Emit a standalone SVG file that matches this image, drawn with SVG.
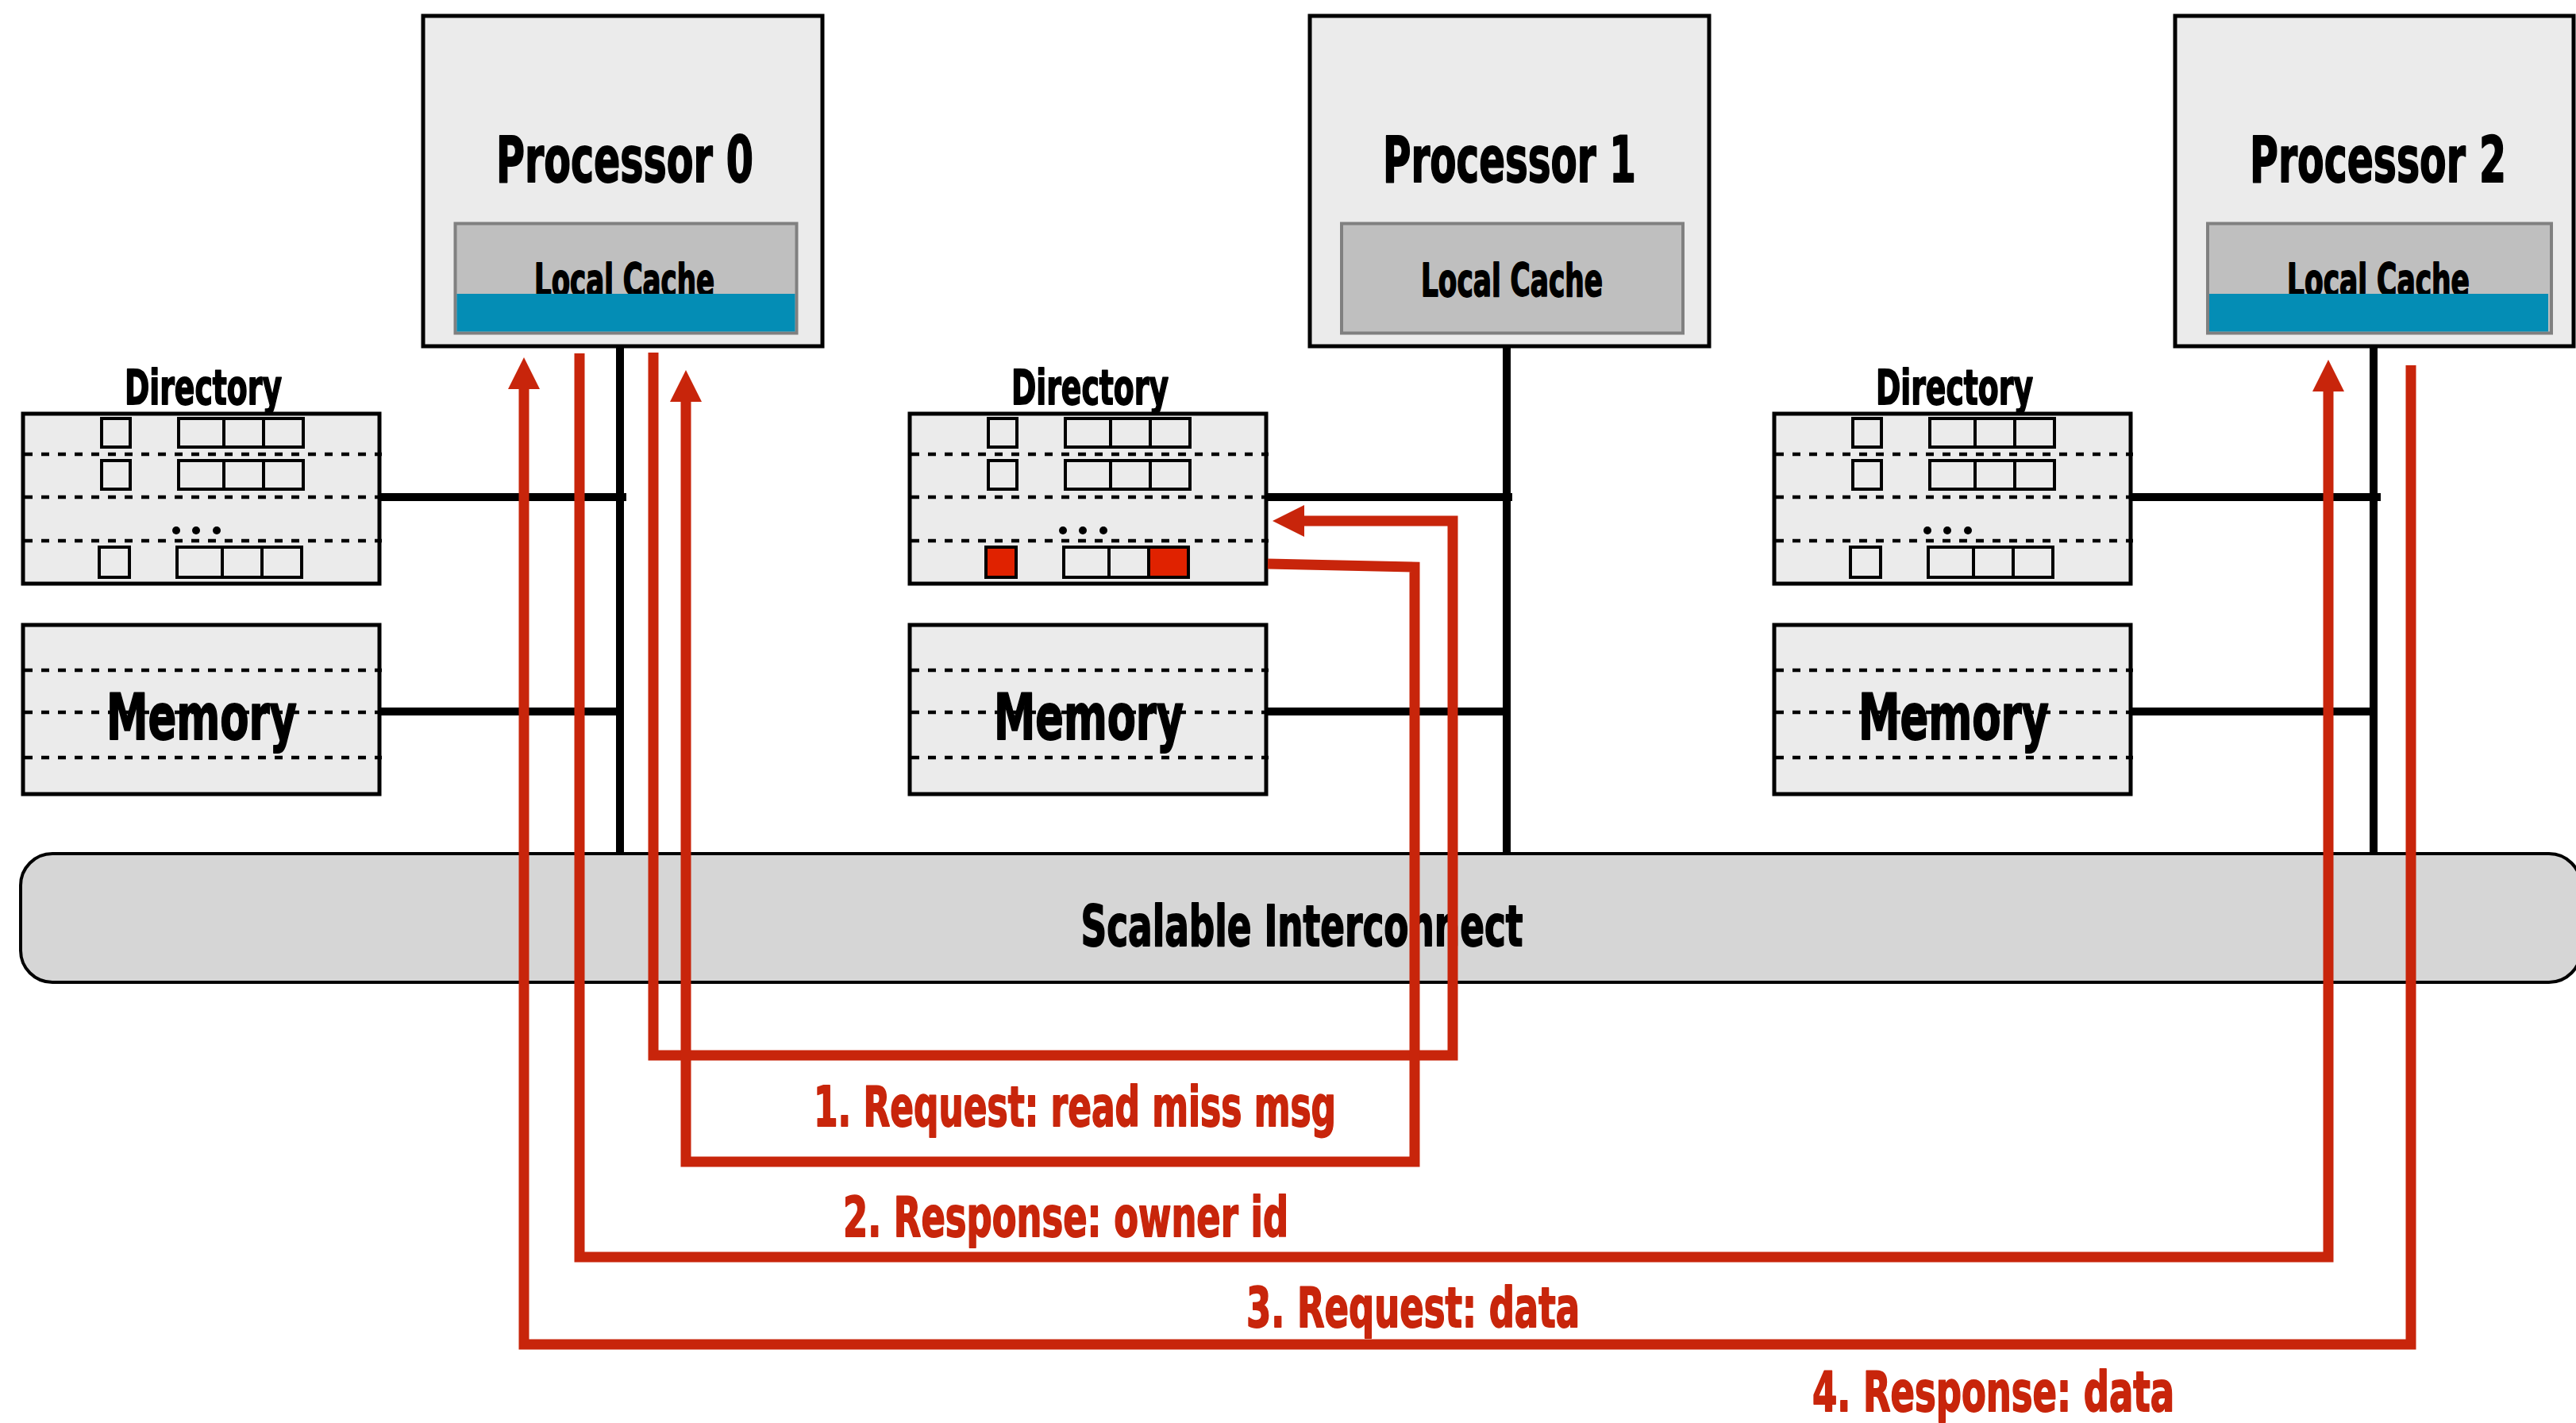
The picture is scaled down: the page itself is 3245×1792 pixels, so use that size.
<svg xmlns="http://www.w3.org/2000/svg" width="3245" height="1792" viewBox="0 0 3245 1792">
<style>
.box{fill:#ebebeb;stroke:#000;stroke-width:5}
.cache{fill:#bfbfbf;stroke:#808080;stroke-width:4}
.blue{fill:#048db5}
.t{font-family:"Liberation Sans Narrow","DejaVu Sans Condensed","Liberation Sans",sans-serif;font-weight:bold;fill:#000;stroke:#000;stroke-width:1.8;stroke-linejoin:round}
.dash{stroke:#000;stroke-width:4.5;stroke-dasharray:10 11;fill:none}
.cell{fill:none;stroke:#000;stroke-width:4}
.red{fill:#e02200;stroke:#000;stroke-width:4}
.wire{stroke:#000;stroke-width:10;fill:none}
.msg{stroke:#c8250b;stroke-width:13;fill:none;marker-end:url(#ah)}
.lbl{fill:#c8250b;stroke:#c8250b}
</style>
<defs>
<marker id="ah" markerUnits="userSpaceOnUse" markerWidth="40" markerHeight="40" viewBox="0 0 40 40" refX="0" refY="20" orient="auto">
<path d="M0,0 L40,20 L0,40 z" fill="#c8250b"/>
</marker>
</defs>
<rect width="3245" height="1792" fill="#fff"/>

<g id="bus">
<rect x="26" y="1075" width="3225" height="162" rx="40" ry="40" fill="#d6d6d6" stroke="#000" stroke-width="4"/>
<text class="t" x="1640" y="1191" font-size="71" text-anchor="middle" textLength="557" lengthAdjust="spacingAndGlyphs">Scalable Interconnect</text>
</g>

<g id="connectors">
<line class="wire" x1="781" y1="437" x2="781" y2="1075"/>
<line class="wire" x1="478" y1="626" x2="789" y2="626"/>
<line class="wire" x1="478" y1="896" x2="781" y2="896"/>
<line class="wire" x1="1898" y1="437" x2="1898" y2="1075"/>
<line class="wire" x1="1595" y1="626" x2="1905" y2="626"/>
<line class="wire" x1="1595" y1="896" x2="1898" y2="896"/>
<line class="wire" x1="2990" y1="437" x2="2990" y2="1075"/>
<line class="wire" x1="2685" y1="626" x2="2999" y2="626"/>
<line class="wire" x1="2685" y1="896" x2="2990" y2="896"/>
</g>

<g id="proc0">
<rect class="box" x="533" y="20" width="503" height="416"/>
<text class="t" x="787" y="229" font-size="80" text-anchor="middle" textLength="324" lengthAdjust="spacingAndGlyphs">Processor 0</text>
<rect class="cache" x="573.5" y="281.5" width="430" height="138"/>
<text class="t" x="786.5" y="373" font-size="57" text-anchor="middle" textLength="227" lengthAdjust="spacingAndGlyphs">Local Cache</text>
<rect class="blue" x="575.5" y="370" width="426" height="47.5"/>
</g>

<g id="proc1">
<rect class="box" x="1650" y="20" width="503" height="416"/>
<text class="t" x="1901.5" y="229" font-size="80" text-anchor="middle" textLength="319" lengthAdjust="spacingAndGlyphs">Processor 1</text>
<rect class="cache" x="1690" y="281.5" width="430" height="138"/>
<text class="t" x="1904.5" y="373" font-size="57" text-anchor="middle" textLength="229" lengthAdjust="spacingAndGlyphs">Local Cache</text>
</g>

<g id="proc2">
<rect class="box" x="2740" y="20" width="502" height="416"/>
<text class="t" transform="translate(2995.5,229) scale(0.68,1)" x="0" y="0" font-size="80" text-anchor="middle">Processor 2</text>
<rect class="cache" x="2781" y="281.5" width="433" height="138"/>
<text class="t" x="2996" y="373" font-size="57" text-anchor="middle" textLength="230" lengthAdjust="spacingAndGlyphs">Local Cache</text>
<rect class="blue" x="2783" y="370" width="427" height="47.5"/>
</g>

<g id="dir0">
<text class="t" x="256" y="509" font-size="61" text-anchor="middle" textLength="198" lengthAdjust="spacingAndGlyphs">Directory</text>
<rect class="box" x="29" y="521" width="449" height="214" stroke-width="4.5"/>
<line class="dash" x1="31" y1="572" x2="481" y2="572"/>
<line class="dash" x1="31" y1="626" x2="481" y2="626"/>
<line class="dash" x1="31" y1="681" x2="481" y2="681"/>
<rect class="cell" x="128" y="527" width="36" height="36"/>
<rect class="cell" x="225" y="527" width="157" height="36"/>
<path class="cell" d="M282,527V563M332,527V563"/>
<rect class="cell" x="128" y="580" width="36" height="36"/>
<rect class="cell" x="225" y="580" width="157" height="36"/>
<path class="cell" d="M282,580V616M332,580V616"/>
<circle cx="222" cy="668" r="5"/><circle cx="247" cy="668" r="5"/><circle cx="273" cy="668" r="5"/>
<rect class="cell" x="125" y="689" width="38" height="38"/>
<rect class="cell" x="223" y="689" width="157" height="38"/>
<path class="cell" d="M280,689V727M330,689V727"/>
</g>

<g id="dir1" transform="translate(1117,0)">
<text class="t" x="256" y="509" font-size="61" text-anchor="middle" textLength="198" lengthAdjust="spacingAndGlyphs">Directory</text>
<rect class="box" x="29" y="521" width="449" height="214" stroke-width="4.5"/>
<line class="dash" x1="31" y1="572" x2="481" y2="572"/>
<line class="dash" x1="31" y1="626" x2="481" y2="626"/>
<line class="dash" x1="31" y1="681" x2="481" y2="681"/>
<rect class="cell" x="128" y="527" width="36" height="36"/>
<rect class="cell" x="225" y="527" width="157" height="36"/>
<path class="cell" d="M282,527V563M332,527V563"/>
<rect class="cell" x="128" y="580" width="36" height="36"/>
<rect class="cell" x="225" y="580" width="157" height="36"/>
<path class="cell" d="M282,580V616M332,580V616"/>
<circle cx="222" cy="668" r="5"/><circle cx="247" cy="668" r="5"/><circle cx="273" cy="668" r="5"/>
<rect class="red" x="125" y="689" width="38" height="38"/>
<rect class="red" x="330" y="689" width="50" height="38"/>
<rect class="cell" x="223" y="689" width="157" height="38"/>
<path class="cell" d="M280,689V727M330,689V727"/>
</g>

<g id="dir2" transform="translate(2206,0)">
<text class="t" x="256" y="509" font-size="61" text-anchor="middle" textLength="198" lengthAdjust="spacingAndGlyphs">Directory</text>
<rect class="box" x="29" y="521" width="449" height="214" stroke-width="4.5"/>
<line class="dash" x1="31" y1="572" x2="481" y2="572"/>
<line class="dash" x1="31" y1="626" x2="481" y2="626"/>
<line class="dash" x1="31" y1="681" x2="481" y2="681"/>
<rect class="cell" x="128" y="527" width="36" height="36"/>
<rect class="cell" x="225" y="527" width="157" height="36"/>
<path class="cell" d="M282,527V563M332,527V563"/>
<rect class="cell" x="128" y="580" width="36" height="36"/>
<rect class="cell" x="225" y="580" width="157" height="36"/>
<path class="cell" d="M282,580V616M332,580V616"/>
<circle cx="222" cy="668" r="5"/><circle cx="247" cy="668" r="5"/><circle cx="273" cy="668" r="5"/>
<rect class="cell" x="125" y="689" width="38" height="38"/>
<rect class="cell" x="223" y="689" width="157" height="38"/>
<path class="cell" d="M280,689V727M330,689V727"/>
</g>

<g id="mem0">
<rect class="box" x="29" y="787" width="449" height="213" stroke-width="4.5"/>
<line class="dash" x1="31" y1="844" x2="481" y2="844"/>
<line class="dash" x1="31" y1="897" x2="481" y2="897"/>
<line class="dash" x1="31" y1="954" x2="481" y2="954"/>
<text class="t" x="254" y="931" font-size="80" text-anchor="middle" textLength="240" lengthAdjust="spacingAndGlyphs">Memory</text>
</g>
<g id="mem1" transform="translate(1117,0)">
<rect class="box" x="29" y="787" width="449" height="213" stroke-width="4.5"/>
<line class="dash" x1="31" y1="844" x2="481" y2="844"/>
<line class="dash" x1="31" y1="897" x2="481" y2="897"/>
<line class="dash" x1="31" y1="954" x2="481" y2="954"/>
<text class="t" x="254.5" y="931" font-size="80" text-anchor="middle" textLength="239" lengthAdjust="spacingAndGlyphs">Memory</text>
</g>
<g id="mem2" transform="translate(2206,0)">
<rect class="box" x="29" y="787" width="449" height="213" stroke-width="4.5"/>
<line class="dash" x1="31" y1="844" x2="481" y2="844"/>
<line class="dash" x1="31" y1="897" x2="481" y2="897"/>
<line class="dash" x1="31" y1="954" x2="481" y2="954"/>
<text class="t" x="255" y="931" font-size="80" text-anchor="middle" textLength="240" lengthAdjust="spacingAndGlyphs">Memory</text>
</g>

<g id="messages">
<path class="msg" d="M823,444 V1329 H1830 V656 H1643"/>
<path class="msg" d="M1597,710 L1782,714 V1463 H864 V506"/>
<path class="msg" d="M730,445 V1583 H2933 V493"/>
<path class="msg" d="M3037,460 V1693 H660 V490"/>
<text class="t lbl" x="1354" y="1418" font-size="70" text-anchor="middle" textLength="658" lengthAdjust="spacingAndGlyphs">1. Request: read miss msg</text>
<text class="t lbl" x="1342.5" y="1557" font-size="70" text-anchor="middle" textLength="561" lengthAdjust="spacingAndGlyphs">2. Response: owner id</text>
<text class="t lbl" x="1780" y="1671" font-size="70" text-anchor="middle" textLength="420" lengthAdjust="spacingAndGlyphs">3. Request: data</text>
<text class="t lbl" x="2511" y="1777" font-size="70" text-anchor="middle" textLength="456" lengthAdjust="spacingAndGlyphs">4. Response: data</text>
</g>
</svg>
